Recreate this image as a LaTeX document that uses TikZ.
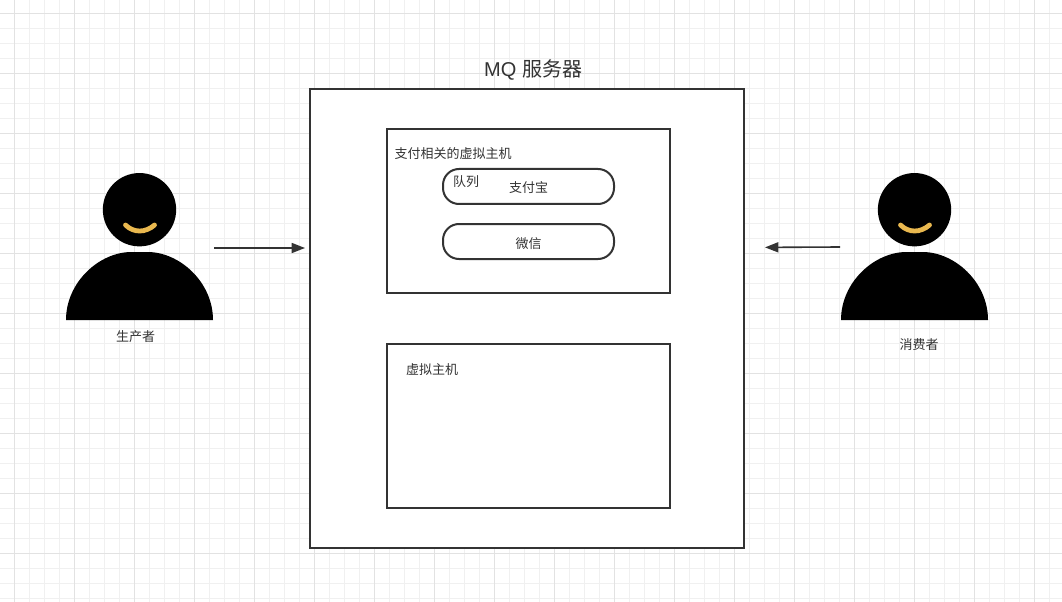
\documentclass[tikz,border=0pt]{standalone}
\usepackage{fontspec}
\setmainfont{Noto Sans CJK SC}
\newfontfamily\latinfont{Liberation Sans}
\usetikzlibrary{arrows.meta}
\definecolor{ink}{HTML}{333333}
\definecolor{gridmajor}{HTML}{E2E2E2}
\definecolor{gridminor}{HTML}{F0F0F0}
\definecolor{smile}{HTML}{E9B84F}
\tikzset{
  x=0.75pt, y=-0.75pt,
  box/.style={draw=ink, line width=1.5pt, fill=white, inner sep=0pt, outer sep=0pt},
  pill/.style={box, rounded corners=12pt, minimum width=128.25pt, minimum height=26.25pt},
  label/.style={text=ink, font=\fontsize{9.75pt}{12pt}\selectfont, inner sep=0pt},
  flow/.style={draw=ink, line width=1.2pt, -{Triangle[length=10pt,width=7.5pt]}, shorten >=3.75pt},
  person/.pic={
    \fill[black] (0,-38.3) circle[radius=27.5pt];
    \fill[black] (-73.5,72) .. controls (-73.5,34) and (-40,4) .. (-8,4)
      -- (8,4) .. controls (40,4) and (73.5,34) .. (73.5,72) -- cycle;
    \draw[smile, line width=3.6pt, line cap=round] (-14,-23) .. controls (-6,-15) and (6,-15) .. (15,-23);
  }
}
\begin{document}
\begin{tikzpicture}
  \useasboundingbox (0,0) rectangle (1062,602);
  \fill[white] (0,0) rectangle (1062,602);

  % Background grid: minor lines every 15 px, stronger lines every 60 px
  \foreach \gx in {14.5,29.5,...,1060} {\draw[gridminor, line width=0.75pt] (\gx,0) -- (\gx,602);}
  \foreach \gy in {13.5,28.5,...,600} {\draw[gridminor, line width=0.75pt] (0,\gy) -- (1062,\gy);}
  \foreach \gx in {14.5,74.5,...,1060} {\draw[gridmajor, line width=0.75pt] (\gx,0) -- (\gx,602);}
  \foreach \gy in {13.5,73.5,...,600} {\draw[gridmajor, line width=0.75pt] (0,\gy) -- (1062,\gy);}

  % Server with its two virtual hosts
  \node[box, minimum width=325.5pt, minimum height=344.25pt] (server) at (527,318.5) {};
  \node[box, minimum width=212.25pt, minimum height=123pt] (payhost) at (528.5,211) {};
  \node[box, minimum width=212.25pt, minimum height=123pt] (otherhost) at (528.5,426) {};
  \node[pill] (alipay) at (528.5,186.5) {};
  \node[pill] (wechat) at (528.5,241.5) {};

  \node[text=ink, font=\fontsize{15pt}{18pt}\selectfont, inner sep=0pt] (title) at (533.5,70) {{\latinfont MQ}\hspace{1.5pt} 服务器};
  \node[label] (paylabel) at (453,154) {支付相关的虚拟主机};
  \node[label] (queuelabel) at (466,182) {队列};
  \node[label] at (alipay.center) [yshift=-1.1pt] (alipaylabel) {支付宝};
  \node[label] at (wechat.center) [yshift=-1.8pt] (wechatlabel) {微信};
  \node[label] (otherlabel) at (432,370) {虚拟主机};

  % Producer and consumer figures
  \pic at (139.5,248) {person};
  \pic at (914.5,248) {person};
  \node[label] (producer) at (135.5,337) {生产者};
  \node[label] (consumer) at (919,345) {消费者};

  % Message flow into the server
  \coordinate (prodout) at (214,248);
  \coordinate (consout) at (840,247);
  \coordinate (consin) at (744,247.5);
  \draw[flow] (prodout) -- (server.west |- prodout);
  \draw[flow, shorten >=15.75pt] (consout) -- (consin);
\end{tikzpicture}
\end{document}
